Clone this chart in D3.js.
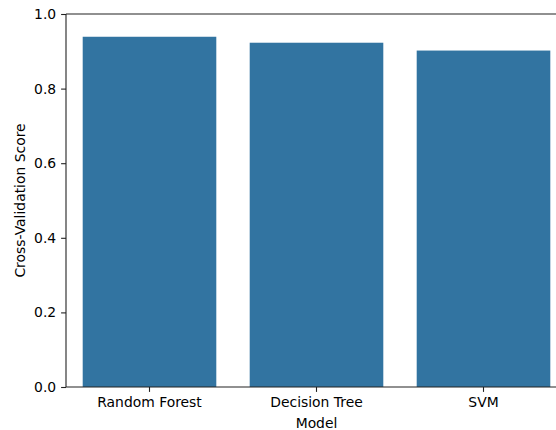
<!DOCTYPE html>
<html><head><meta charset="utf-8">
<script src="https://cdn.jsdelivr.net/npm/d3@7"></script>
<style>body{margin:0;background:#fff}svg{display:block}text{font-family:"DejaVu Sans",sans-serif;fill:#000}</style>
</head><body><svg id="c" width="556" height="430"></svg>
<script>
const models = ["Random Forest", "Decision Tree", "SVM"];
const scores = [0.939, 0.923, 0.902];
const yTicks = [0, 0.2, 0.4, 0.6, 0.8, 1.0];

const svg = d3.select("#c");
const L = 66, T = 14, B = 387, R = 567;
const x = d3.scaleBand().domain(models).range([L, R]).paddingInner(0.2).paddingOuter(0.1);
const y = d3.scaleLinear().domain([0, 1]).range([B, T]);

svg.selectAll("rect.bar").data(models).enter().append("rect")
  .attr("class","bar")
  .attr("x", d => x(d)).attr("width", x.bandwidth())
  .attr("y", (d,i) => y(scores[i])).attr("height", (d,i) => B - y(scores[i]))
  .attr("fill", "#3274a1");

const fs = "13.9px";
const gy = svg.append("g").attr("transform", `translate(${L},0)`)
  .call(d3.axisLeft(y).tickValues(yTicks).tickFormat(d3.format(".1f")).tickSize(4.9).tickPadding(4.9));
const gx = svg.append("g").attr("transform", `translate(0,${B})`)
  .call(d3.axisBottom(x).tickSize(4.9).tickPadding(4.9));
[gy, gx].forEach(g => {
  g.selectAll("text").style("font-size", fs).attr("font-family", "DejaVu Sans");
  g.selectAll("line").attr("stroke", "#222").attr("stroke-width", 1.1);
  g.select(".domain").remove();
});
// spines
svg.append("line").attr("x1", L).attr("x2", L).attr("y1", T).attr("y2", B).attr("stroke","#222").attr("stroke-width",1.1);
svg.append("line").attr("x1", L).attr("x2", R).attr("y1", B).attr("y2", B).attr("stroke","#222").attr("stroke-width",1.1);
svg.append("line").attr("x1", L).attr("x2", R).attr("y1", T).attr("y2", T).attr("stroke","#222").attr("stroke-width",1.1);

svg.append("text").attr("x", (L + R) / 2).attr("y", 428).attr("text-anchor","middle")
  .style("font-size", fs).text("Model");
svg.append("text").attr("transform", `translate(25,${(T+B)/2}) rotate(-90)`).attr("text-anchor","middle")
  .style("font-size", fs).text("Cross-Validation Score");
</script></body></html>
